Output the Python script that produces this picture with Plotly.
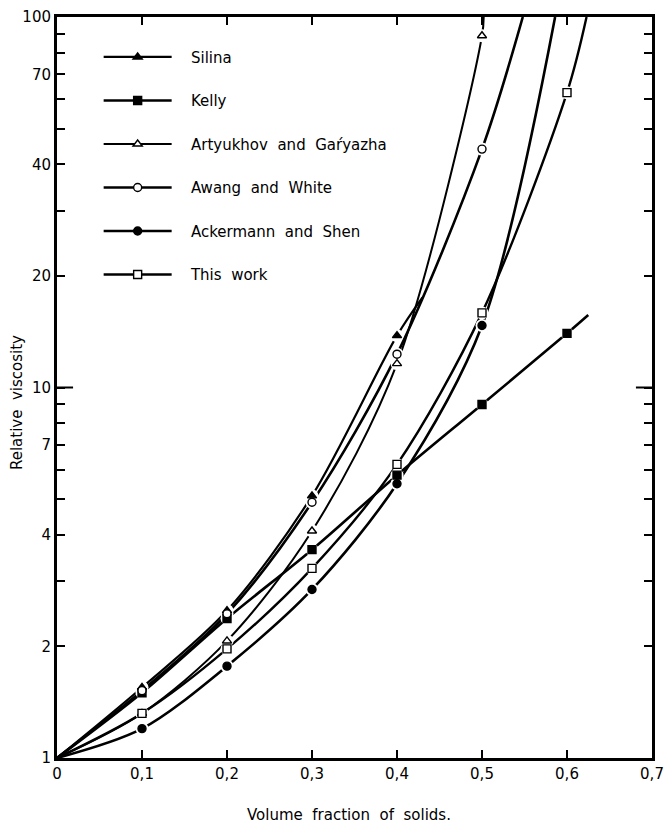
import plotly.graph_objects as go

# Volume fraction of solids at which data points are plotted
phi = [0.1, 0.2, 0.3, 0.4, 0.5, 0.6]

# Relative viscosity (None = no point)
silina     = [1.55, 2.50, 5.10, 13.8, None, None]
kelly      = [1.50, 2.38, 3.65, 5.80, 9.00, 14.0]
artyukhov  = [1.32, 2.07, 4.10, 11.6, 89.0, None]
awang      = [1.52, 2.45, 4.90, 12.3, 44.0, None]
ackermann  = [1.20, 1.77, 2.85, 5.50, 14.7, None]
this_work  = [1.32, 1.97, 3.25, 6.20, 15.9, 62.5]

# curve start (pure liquid) and where each drawn curve ends
origin = (0.0, 1.0)
curve_end = {
    "Silina": (0.43, 17.5),
    "Kelly": (0.625, 15.7),
    "Artyukhov and Gaŕyazha": (0.502, 100.0),
    "Awang and White": (0.548, 100.0),
    "Ackermann and Shen": (0.586, 100.0),
    "This work": (0.623, 100.0),
}

x_ticks = [0, 0.1, 0.2, 0.3, 0.4, 0.5, 0.6, 0.7]
x_ticktext = ["0", "0,1", "0,2", "0,3", "0,4", "0,5", "0,6", "0,7"]
y_ticks = [1, 2, 3, 4, 5, 6, 7, 8, 9, 10, 20, 30, 40, 50, 60, 70, 80, 90, 100]
y_labels = {1: "1", 2: "2", 4: "4", 7: "7", 10: "10", 20: "20", 40: "40", 70: "70", 100: "100"}

series = [
    ("Silina", silina, "triangle-up", "black", 2.2),
    ("Kelly", kelly, "square", "black", 2.6),
    ("Artyukhov and Gaŕyazha", artyukhov, "triangle-up", "white", 2.0),
    ("Awang and White", awang, "circle", "white", 2.6),
    ("Ackermann and Shen", ackermann, "circle", "black", 2.6),
    ("This work", this_work, "square", "white", 2.4),
]

FONT = "DejaVu Sans"
fig = go.Figure()

# curves
for name, vals, sym, fill, lw in series:
    xs = [origin[0]] + [p for p, v in zip(phi, vals) if v is not None] + [curve_end[name][0]]
    ys = [origin[1]] + [v for v in vals if v is not None] + [curve_end[name][1]]
    fig.add_trace(go.Scatter(x=xs, y=ys, mode="lines", showlegend=False,
                             line=dict(color="black", width=lw, shape="spline", smoothing=0.9),
                             hoverinfo="skip"))

# white gaps around markers
for name, vals, sym, fill, lw in series:
    xs = [p for p, v in zip(phi, vals) if v is not None]
    ys = [v for v in vals if v is not None]
    fig.add_trace(go.Scatter(x=xs, y=ys, mode="markers", showlegend=False,
                             marker=dict(symbol="circle", size=13, color="white", line=dict(width=0)),
                             hoverinfo="skip"))

# markers
for name, vals, sym, fill, lw in series:
    xs = [p for p, v in zip(phi, vals) if v is not None]
    ys = [v for v in vals if v is not None]
    fig.add_trace(go.Scatter(x=xs, y=ys, mode="markers", showlegend=False, name=name,
                             marker=dict(symbol=sym, size=8, color=fill,
                                         line=dict(color="black", width=1.4))))

# legend entries
for name, vals, sym, fill, lw in series:
    fig.add_trace(go.Scatter(x=[None], y=[None], mode="lines+markers", name="   " + name.replace(" ", "  "),
                             legendgroup=name,
                             line=dict(color="black", width=lw),
                             marker=dict(symbol=sym, size=8, color=fill,
                                         line=dict(color="black", width=1.4))))

axis_common = dict(showline=True, linecolor="black", linewidth=3, mirror="ticks",
                   ticks="inside", ticklen=8, tickwidth=1.5, tickcolor="black",
                   showgrid=False, zeroline=False, automargin=False,
                   tickfont=dict(family=FONT, size=15, color="black"))

fig.update_xaxes(range=[0, 0.7], tickvals=x_ticks, ticktext=x_ticktext, **axis_common)
fig.update_yaxes(type="log", range=[0, 2], tickvals=y_ticks,
                 ticktext=[y_labels.get(v, "") for v in y_ticks], **axis_common)

# longer tick at 10 on both sides
for x0, x1 in [(0, 0.027), (0.973, 1)]:
    fig.add_shape(type="line", xref="paper", yref="y", x0=x0, x1=x1, y0=10, y1=10,
                  line=dict(color="black", width=2))

fig.add_annotation(text="Relative  viscosity", xref="paper", yref="paper", x=-0.066, y=0.48,
                   textangle=-90, showarrow=False, xanchor="center", yanchor="middle",
                   font=dict(family=FONT, size=15, color="black"))
fig.add_annotation(text="Volume  fraction  of  solids.", xref="paper", yref="paper", x=0.49, y=-0.077,
                   showarrow=False, xanchor="center", yanchor="middle",
                   font=dict(family=FONT, size=15, color="black"))

fig.update_layout(
    width=664, height=825,
    margin=dict(l=57, r=12, t=17, b=67),
    paper_bgcolor="white", plot_bgcolor="white",
    showlegend=True,
    legend=dict(x=0.07, y=0.968, xanchor="left", yanchor="top", bgcolor="rgba(0,0,0,0)",
                borderwidth=0, tracegroupgap=21, itemwidth=68,
                font=dict(family=FONT, size=15, color="black")),
)

fig.write_html(
    "out.html",
    config={"displayModeBar": False},
    post_script="document.documentElement.style.margin='0';document.body.style.margin='0';"
                "document.body.style.overflow='hidden';",
)
